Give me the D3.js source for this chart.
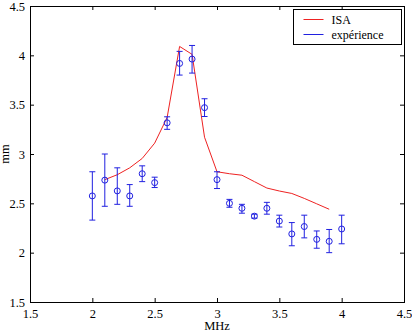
<!DOCTYPE html>
<html>
<head>
<meta charset="utf-8">
<script src="https://d3js.org/d3.v7.min.js"></script>
<style>
  body { margin: 0; background: #fff; }
  text { font-family: "Liberation Serif", "Times New Roman", serif; fill: #000; }
</style>
</head>
<body>
<svg width="412" height="333"></svg>
<script>
// experiment (blue points with error bars)
var expX   = [2.0, 2.1, 2.2, 2.3, 2.4, 2.5, 2.6, 2.7, 2.8, 2.9, 3.0, 3.1, 3.2, 3.3, 3.4, 3.5, 3.6, 3.7, 3.8, 3.9, 4.0];
var expY   = [2.575, 2.735, 2.626, 2.575, 2.80, 2.71, 3.316, 3.918, 3.962, 3.47, 2.74, 2.50, 2.45, 2.37, 2.45, 2.32, 2.19, 2.265, 2.135, 2.115, 2.24];
var expLo  = [2.33, 2.47, 2.49, 2.47, 2.72, 2.66, 3.25, 3.80, 3.82, 3.38, 2.65, 2.46, 2.40, 2.35, 2.39, 2.26, 2.07, 2.15, 2.045, 2.0, 2.09];
var expHi  = [2.82, 3.0, 2.86, 2.69, 2.88, 2.765, 3.377, 4.04, 4.10, 3.56, 2.82, 2.54, 2.49, 2.39, 2.51, 2.38, 2.305, 2.38, 2.22, 2.235, 2.38];

// ISA model (red line)
var isaX = [2.1, 2.2, 2.3, 2.4, 2.5, 2.6, 2.7, 2.8, 2.9, 3.0, 3.1, 3.2, 3.3, 3.4, 3.5, 3.6, 3.7, 3.8, 3.9];
var isaY = [2.74, 2.79, 2.86, 2.955, 3.11, 3.37, 4.09, 4.01, 3.17, 2.82, 2.80, 2.785, 2.72, 2.655, 2.625, 2.60, 2.55, 2.495, 2.44];

var xTicks = [1.5, 2, 2.5, 3, 3.5, 4, 4.5];
var yTicks = [1.5, 2, 2.5, 3, 3.5, 4, 4.5];

var svg = d3.select("svg");
var mLeft = 30, mRight = 404, mTop = 6, mBottom = 302;

var x = d3.scaleLinear().domain([1.5, 4.5]).range([mLeft, mRight]);
var y = d3.scaleLinear().domain([1.5, 4.5]).range([mBottom, mTop]);

var blue = "#2020e0", red = "#ee2222";

// frame
svg.append("rect")
  .attr("x", mLeft + 0.5).attr("y", mTop + 0.5)
  .attr("width", mRight - mLeft).attr("height", mBottom - mTop)
  .attr("fill", "none").attr("stroke", "#000").attr("stroke-width", 1);

// axes with inward ticks
var fmt = function(d) { return d3.format("")(d); };
svg.append("g").attr("transform", "translate(0," + mBottom + ")")
  .call(d3.axisBottom(x).tickValues(xTicks).tickSizeInner(-4).tickSizeOuter(0).tickPadding(7).tickFormat(fmt))
  .call(function(g) { g.select(".domain").remove(); g.selectAll("text").attr("font-size", 12.5).attr("font-family", "Liberation Serif"); });
svg.append("g").attr("transform", "translate(0," + mTop + ")")
  .call(d3.axisTop(x).tickValues(xTicks).tickSizeInner(-4).tickSizeOuter(0).tickFormat(""))
  .call(function(g) { g.select(".domain").remove(); });
svg.append("g").attr("transform", "translate(" + mLeft + ",0)")
  .call(d3.axisLeft(y).tickValues(yTicks).tickSizeInner(-4).tickSizeOuter(0).tickPadding(5).tickFormat(fmt))
  .call(function(g) { g.select(".domain").remove(); g.selectAll("text").attr("font-size", 12.5).attr("font-family", "Liberation Serif"); });
svg.append("g").attr("transform", "translate(" + mRight + ",0)")
  .call(d3.axisRight(y).tickValues(yTicks).tickSizeInner(-4).tickSizeOuter(0).tickFormat(""))
  .call(function(g) { g.select(".domain").remove(); });

// axis labels
svg.append("text")
  .attr("x", x(3)).attr("y", 330)
  .attr("text-anchor", "middle").attr("font-size", 12.5)
  .text("MHz");
svg.append("text")
  .attr("transform", "translate(9," + y(3) + ") rotate(-90)")
  .attr("text-anchor", "middle").attr("font-size", 12.5)
  .text("mm");

// ISA line
var line = d3.line().x(function(d) { return x(d[0]); }).y(function(d) { return y(d[1]); });
svg.append("path")
  .datum(d3.zip(isaX, isaY))
  .attr("d", line)
  .attr("fill", "none").attr("stroke", red).attr("stroke-width", 1);

// error bars
var gErr = svg.append("g").attr("stroke", blue).attr("stroke-width", 1).attr("fill", "none");
var pts = expX.map(function(v, i) { return { x: v, y: expY[i], lo: expLo[i], hi: expHi[i] }; });
gErr.selectAll("line.v").data(pts).enter().append("line")
  .attr("x1", function(d) { return x(d.x); }).attr("x2", function(d) { return x(d.x); })
  .attr("y1", function(d) { return y(d.lo); }).attr("y2", function(d) { return y(d.hi); });
gErr.selectAll("line.hi").data(pts).enter().append("line")
  .attr("x1", function(d) { return x(d.x) - 3; }).attr("x2", function(d) { return x(d.x) + 3; })
  .attr("y1", function(d) { return y(d.hi); }).attr("y2", function(d) { return y(d.hi); });
gErr.selectAll("line.lo").data(pts).enter().append("line")
  .attr("x1", function(d) { return x(d.x) - 3; }).attr("x2", function(d) { return x(d.x) + 3; })
  .attr("y1", function(d) { return y(d.lo); }).attr("y2", function(d) { return y(d.lo); });
gErr.selectAll("circle").data(pts).enter().append("circle")
  .attr("cx", function(d) { return x(d.x); })
  .attr("cy", function(d) { return y(d.y); })
  .attr("r", 3);

// legend
var lg = svg.append("g").attr("transform", "translate(293.5,9.5)");
lg.append("rect").attr("width", 108).attr("height", 35)
  .attr("fill", "#fff").attr("stroke", "#000").attr("stroke-width", 1);
lg.append("line").attr("x1", 10).attr("x2", 30).attr("y1", 10).attr("y2", 10).attr("stroke", red);
lg.append("line").attr("x1", 10).attr("x2", 30).attr("y1", 25).attr("y2", 25).attr("stroke", blue);
lg.append("text").attr("x", 38).attr("y", 14.5).attr("font-size", 12).text("ISA");
lg.append("text").attr("x", 38).attr("y", 29.5).attr("font-size", 12).text("expérience");
</script>
</body>
</html>
